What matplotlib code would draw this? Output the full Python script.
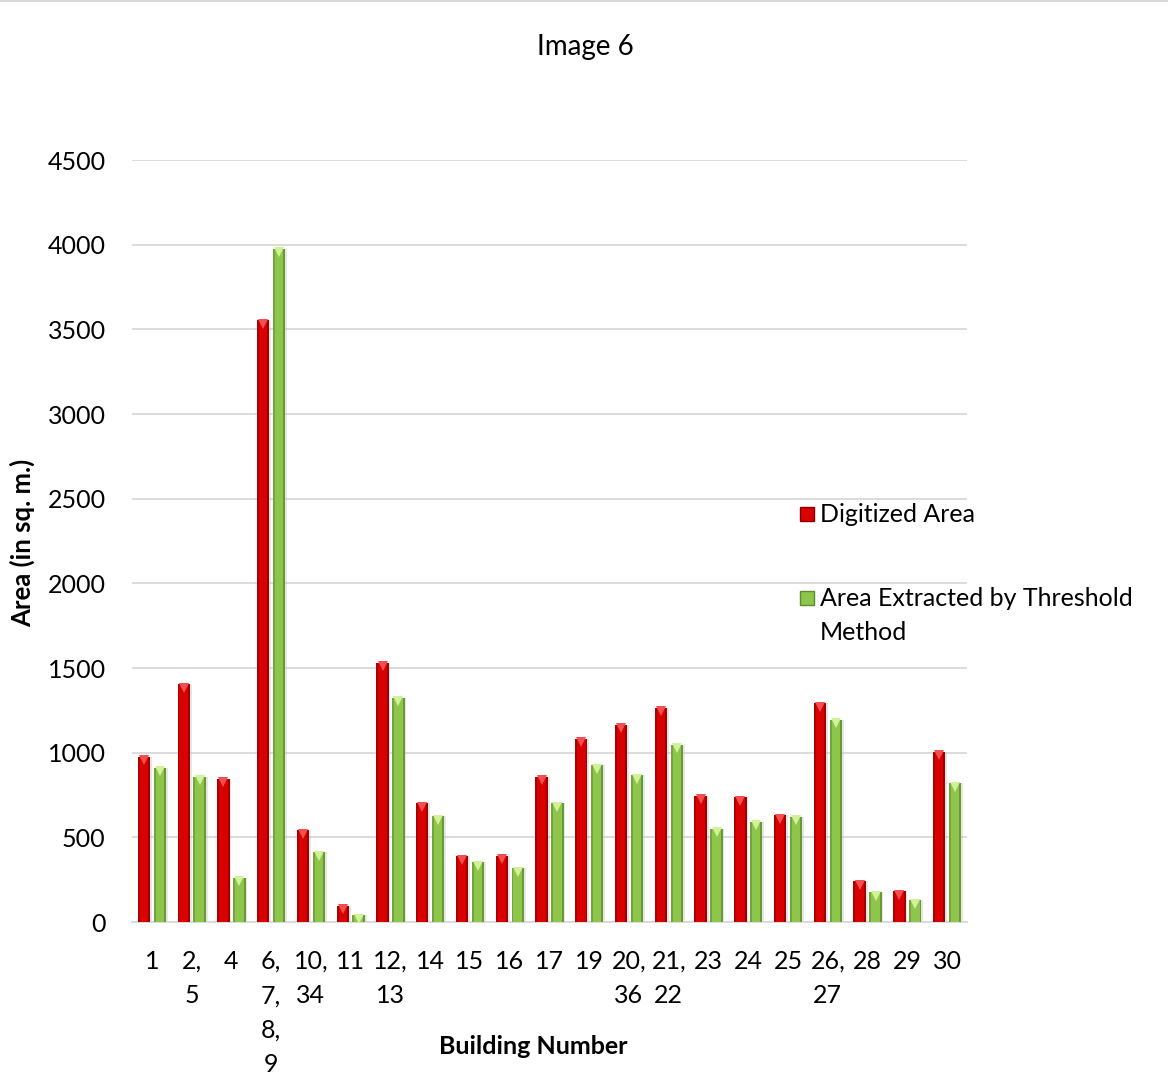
import matplotlib
matplotlib.use("Agg")
import matplotlib.pyplot as plt
import matplotlib.transforms as mtransforms
from matplotlib.patches import Rectangle
from matplotlib.lines import Line2D
import numpy as np

plt.rcParams['font.family'] = ['Lato', 'DejaVu Sans']

# Building groups along the x axis
buildings = ["1", "2,\n5", "4", "6,\n7,\n8,\n9", "10,\n34", "11", "12,\n13", "14", "15", "16",
             "17", "19", "20,\n36", "21,\n22", "23", "24", "25", "26,\n27", "28", "29", "30"]

# Areas in square metres
digitized_area = [975, 1405, 845, 3555, 542, 95, 1530, 700, 388, 391,
                  858, 1083, 1165, 1265, 745, 738, 631, 1291, 241, 182, 1005]
threshold_area = [910, 858, 261, 3975, 412, 40, 1325, 625, 352, 317,
                  700, 927, 868, 1046, 552, 593, 621, 1194, 176, 129, 818]

y_ticks = [0, 500, 1000, 1500, 2000, 2500, 3000, 3500, 4000, 4500]

series_names = ["Digitized Area", "Area Extracted by Threshold\nMethod"]

FS = 18

W, H = 1168, 1078
fig = plt.figure(figsize=(W / 100, H / 100), dpi=100)
ax = fig.add_axes([132 / W, 1 - 922 / H, (967 - 132) / W, (922 - 160) / H])

x = np.arange(len(buildings))
bw = 0.31
off = 0.2

styles = [
    dict(face="#D80000", edge="#8E0000", tip="#F25050"),
    dict(face="#8DC64B", edge="#5D8B2E", tip="#D2F29A"),
]

for values, shift, st in ((digitized_area, -off, styles[0]), (threshold_area, off, styles[1])):
    xs = x + shift
    # soft shadow on the right side
    ax.bar(xs + 0.045, values, width=bw, color="#BBBBBB", alpha=0.35, zorder=2, linewidth=0)
    ax.bar(xs, values, width=bw, color=st["face"], zorder=3, linewidth=0)
    # darker bevels along both sides
    edge_w = bw * 0.16
    ax.bar(xs - bw / 2 + edge_w / 2, values, width=edge_w, color=st["edge"], alpha=0.55, zorder=4, linewidth=0)
    ax.bar(xs + bw / 2 - edge_w / 2, values, width=edge_w, color=st["edge"], alpha=0.75, zorder=4, linewidth=0)
    # light triangular cap at the top of each bar
    tip_off = mtransforms.offset_copy(ax.transData, fig=fig, x=0, y=-3.5, units="dots")
    ax.plot(xs, values, linestyle="none", marker="v", markersize=7,
            markerfacecolor=st["tip"], markeredgewidth=0, transform=tip_off, zorder=5)

ax.set_xlim(-0.5, len(buildings) - 0.5)
ax.set_ylim(0, 4500)
ax.set_yticks(y_ticks)
ax.set_yticklabels([str(v) for v in y_ticks])
ax.set_xticks(x)
ax.set_xticklabels(buildings, linespacing=1.6, ha="center", va="top")
ax.tick_params(axis="both", length=0, labelsize=FS, colors="black")
ax.tick_params(axis="x", pad=20)
ax.tick_params(axis="y", pad=19)

ax.grid(axis="y", color="#D9D9D9", linewidth=1.3, zorder=0)
ax.set_axisbelow(True)
for side in ("top", "right", "left"):
    ax.spines[side].set_visible(False)
ax.spines["bottom"].set_color("#D9D9D9")
ax.spines["bottom"].set_linewidth(1.3)

fig.text(585 / W, 1 - 47 / H, "Image 6", ha="center", va="center", fontsize=20)
fig.text(22 / W, 1 - 543 / H, "Area (in sq. m.)", rotation=90, ha="center", va="center",
         fontsize=18.5, fontweight="bold")
fig.text(533 / W, 1 - 1046 / H, "Building Number", ha="center", va="center",
         fontsize=18, fontweight="bold")

# legend entries, one text line at a time so the key sits beside the first line
legend_rows = [514, 598]
line_gap = 34
for name, st, yc in zip(series_names, styles, legend_rows):
    fig.add_artist(Rectangle((800 / W, 1 - (yc + 7) / H), 14 / W, 14 / H,
                             transform=fig.transFigure, facecolor=st["face"],
                             edgecolor=st["edge"], linewidth=1))
    for i, line in enumerate(name.split("\n")):
        fig.text(820 / W, 1 - (yc + 8 + i * line_gap) / H, line, ha="left",
                 va="baseline", fontsize=FS)

# thin frame line along the top edge
fig.add_artist(Line2D([0, 1], [1 - 1 / H, 1 - 1 / H], transform=fig.transFigure,
                      color="#D9D9D9", linewidth=1.5))

fig.savefig("out.png", dpi=100)
